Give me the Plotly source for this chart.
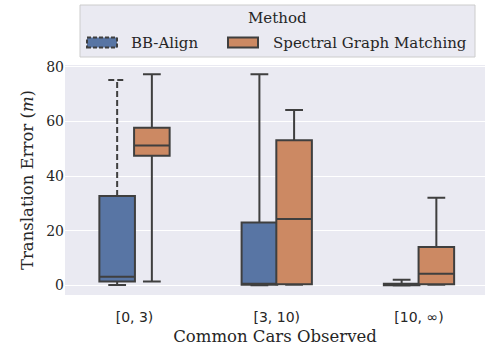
import plotly.graph_objects as go

categories = ["[0, 3)", "[3, 10)", "[10, ∞)"]
methods = ["BB-Align", "Spectral Graph Matching"]

# BB-Align box statistics per category
bb_lower = [0.2, 0.1, 0.0]
bb_q1 = [1.5, 0.3, 0.1]
bb_median = [3.2, 0.7, 0.4]
bb_q3 = [32.7, 23.0, 0.7]
bb_upper = [75.1, 77.2, 2.1]

# Spectral Graph Matching box statistics per category
sgm_lower = [1.5, 0.3, 0.3]
sgm_q1 = [47.4, 0.5, 0.5]
sgm_median = [51.2, 24.3, 4.3]
sgm_q3 = [57.7, 53.1, 14.1]
sgm_upper = [77.2, 64.2, 32.1]

colors = ["#5875A4", "#CC8963"]
edge = "#3F3F3F"
serif = "DejaVu Serif"
sans = "DejaVu Sans"

W, H = 485, 347
ML, MR, MT, MB = 65, 0, 65, 52
PW, PH = W - ML - MR, H - MT - MB


def px(x):
    return (x - ML) / PW


def py(y):
    return (H - MB - y) / PH


idx = list(range(len(categories)))
off = 0.122
bw = 0.25
bb_x = [i - off for i in idx]
sgm_x = [i + off for i in idx]

# the first BB-Align upper whisker is drawn dashed separately
bb_upper_box = [bb_q3[0]] + bb_upper[1:]

fig = go.Figure()
fig.add_trace(go.Box(
    name=methods[0], x=bb_x, q1=bb_q1, median=bb_median, q3=bb_q3,
    lowerfence=bb_lower, upperfence=bb_upper_box, width=bw, whiskerwidth=0.5,
    fillcolor=colors[0], line=dict(color=edge, width=2), boxpoints=False,
))
fig.add_trace(go.Box(
    name=methods[1], x=sgm_x, q1=sgm_q1, median=sgm_median, q3=sgm_q3,
    lowerfence=sgm_lower, upperfence=sgm_upper, width=bw, whiskerwidth=0.5,
    fillcolor=colors[1], line=dict(color=edge, width=2), boxpoints=False,
))
cap = bw * 0.5 / 2
x0 = bb_x[0]
fig.add_trace(go.Scatter(
    x=[x0, x0, None, x0 - cap, x0 + cap],
    y=[bb_q3[0], bb_upper[0], None, bb_upper[0], bb_upper[0]],
    mode="lines", line=dict(color=edge, width=2, dash="6px,3px"),
    hoverinfo="skip",
))

# hand-drawn legend (matplotlib style)
shapes = [dict(type="rect", xref="paper", yref="paper",
               x0=px(80), x1=px(475), y0=py(57), y1=py(5),
               fillcolor="#EAEAF2", line=dict(color="#CCCCCC", width=1), layer="above")]
annotations = [dict(text="Method", xref="paper", yref="paper", x=px(277.5), y=py(18),
                    showarrow=False, xanchor="center", yanchor="middle",
                    font=dict(family=serif, size=15, color="#262626"))]
icon_x = [87, 228]
text_x = [129, 271]
dashes = ["4px,2px", "solid"]
for m, c, ix, tx, d in zip(methods, colors, icon_x, text_x, dashes):
    shapes.append(dict(type="rect", xref="paper", yref="paper",
                       x0=px(ix), x1=px(ix + 30), y0=py(47.5), y1=py(37.5),
                       fillcolor=c, line=dict(color=edge, width=2, dash=d), layer="above"))
    annotations.append(dict(text=m, xref="paper", yref="paper", x=px(tx), y=py(42.5),
                            showarrow=False, xanchor="left", yanchor="middle",
                            font=dict(family=serif, size=15, color="#262626")))

fig.update_layout(
    width=W, height=H,
    margin=dict(l=ML, r=MR, t=MT, b=MB),
    paper_bgcolor="white", plot_bgcolor="#EAEAF2",
    font=dict(family=serif, size=14, color="#262626"),
    showlegend=False,
    shapes=shapes, annotations=annotations,
    xaxis=dict(
        range=[-0.4886, 2.464], tickvals=idx, ticktext=categories,
        showgrid=False, zeroline=False, ticks="", ticklabelstandoff=12,
        tickfont=dict(family=sans, size=14, color="#262626"),
        title=dict(text="Common Cars Observed", font=dict(family=serif, size=16.5), standoff=6),
    ),
    yaxis=dict(
        range=[-3.45, 80.6], tickvals=[0, 20, 40, 60, 80],
        showgrid=True, gridcolor="white", gridwidth=1.2, zeroline=False, ticks="",
        tickfont=dict(family=serif, size=14, color="#262626"),
        title=dict(text="Translation Error (<i>m</i>)", font=dict(family=serif, size=16.5), standoff=8),
    ),
)

fig.write_html("out.html")
